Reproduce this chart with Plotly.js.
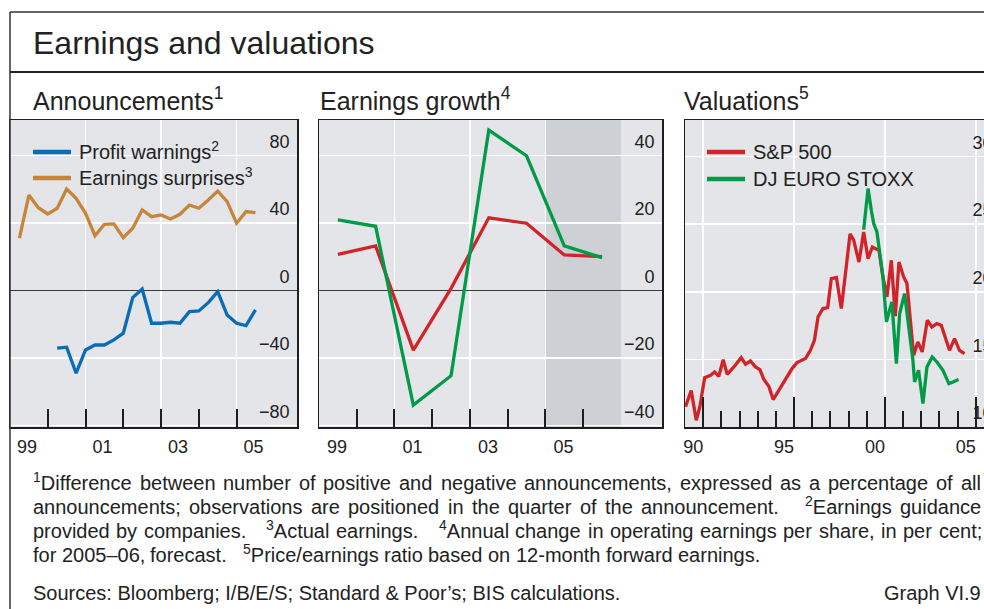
<!DOCTYPE html>
<html>
<head>
<meta charset="utf-8">
<script src="https://cdn.plot.ly/plotly-3.0.1.min.js"></script>
<style>
html,body{margin:0;padding:0;overflow:hidden;background:#ffffff;width:984px;height:609px}
#chart{width:1010px;height:609px}
</style>
</head>
<body>
<div id="chart"></div>
<script>
// ---------------- DATA ----------------
// Panel 1: Announcements (quarterly, decimal years)
const annQuarters = [1999.25, 1999.5, 1999.75, 2000.0, 2000.25, 2000.5, 2000.75, 2001.0, 2001.25, 2001.5,
  2001.75, 2002.0, 2002.25, 2002.5, 2002.75, 2003.0, 2003.25, 2003.5, 2003.75, 2004.0,
  2004.25, 2004.5, 2004.75, 2005.0, 2005.25, 2005.5];
const profitWarnings = [null, null, null, null, -34.3, -33.7, -49.1, -35.3, -32.4, -32.4,
  -29.4, -25.4, -4.3, 0.8, -19.5, -19.5, -18.9, -19.5, -12.6, -12.2,
  -7.3, -0.8, -14.6, -19.5, -20.9, -11.6];
const earningsSurprises = [31.0, 56.5, 49.0, 45.3, 48.7, 60.1, 54.6, 45.7, 32.4, 39.2,
  39.4, 31.2, 36.8, 47.7, 43.7, 44.7, 42.3, 45.1, 50.6, 48.7,
  53.6, 58.9, 52.6, 39.8, 46.7, 46.1];

// Panel 2: Earnings growth (annual, plotted mid-year)
const growthYears = [1999.5, 2000.5, 2001.5, 2002.5, 2003.5, 2004.5, 2005.5, 2006.5];
const growthSP500 = [10.7, 13.2, -17.7, 0.6, 21.5, 19.9, 10.5, 10.0];
const growthEuroStoxx = [20.9, 19.0, -34.0, -25.3, 47.5, 39.9, 13.2, 9.7];
const forecastPeriod = [2005, 2007];

// Panel 3: Valuations (P/E ratios)
const peSPDates = [1989.03, 1989.34, 1989.62, 1989.82, 1990.08, 1990.41, 1990.63, 1990.86, 1991.10, 1991.32,
  1991.69, 1992.09, 1992.33, 1992.60, 1992.88, 1993.12, 1993.34, 1993.61, 1993.85, 1994.16,
  1994.53, 1994.89, 1995.16, 1995.63, 1995.90, 1996.12, 1996.32, 1996.59, 1996.85, 1997.05,
  1997.33, 1997.60, 1997.88, 1998.08, 1998.28, 1998.57, 1998.83, 1999.07, 1999.31, 1999.53,
  1999.67, 1999.89, 2000.11, 2000.35, 2000.57, 2000.77, 2001.03, 2001.21, 2001.58, 2001.81,
  2002.05, 2002.33, 2002.58, 2002.86, 2003.10, 2003.37, 2003.55, 2003.83, 2004.10, 2004.38];
const peSP500 = [11.5, 12.7, 10.5, 11.5, 13.65, 13.82, 14.07, 13.75, 14.98, 13.90,
  14.44, 15.13, 14.64, 14.88, 14.44, 14.25, 13.51, 13.01, 12.03, 12.71,
  13.53, 14.32, 14.76, 15.06, 15.67, 16.41, 18.14, 18.76, 18.83, 20.97,
  21.05, 18.76, 21.95, 24.28, 23.81, 22.20, 24.42, 22.45, 23.31, 23.19,
  23.07, 21.10, 19.62, 22.33, 18.20, 22.20, 21.10, 20.61, 15.30, 16.29,
  15.55, 17.89, 17.40, 17.64, 17.52, 16.41, 15.67, 16.54, 15.67, 15.43];
const peEuroDates = [1998.83, 1999.07, 1999.25, 1999.38, 1999.56, 1999.71, 1999.89, 2000.08, 2000.26, 2000.38,
  2000.63, 2000.81, 2001.08, 2001.54, 2001.63, 2001.85, 2002.09, 2002.31, 2002.60, 2002.86,
  2003.19, 2003.52, 2003.74, 2004.05];
const peEuroStoxx = [24.6, 27.63, 26.03, 25.04, 24.42, 23.07, 21.1, 17.77, 18.63, 19.25,
  14.69, 18.39, 19.87, 14.93, 13.33, 14.19, 11.73, 14.44, 15.18, 14.81,
  14.19, 13.21, 13.33, 13.51];

// Axis ticks / labels
const annTickYears = [1999, 2001, 2003, 2005];
const annTickLabels = ['99', '01', '03', '05'];
const annMinorYears = [2000, 2002, 2004];
const annYTicks = [-80, -40, 0, 40, 80];
const growthMinorYears = [2000, 2002, 2004, 2006];
const growthYTicks = [-40, -20, 0, 20, 40];
const valTickYears = [1990, 1995, 2000, 2005];
const valTickLabels = ['90', '95', '00', '05'];
const valMinorYears = [1991, 1992, 1993, 1994, 1996, 1997, 1998, 1999, 2001, 2002, 2003, 2004];
const valYTicks = [10, 15, 20, 25, 30];

// ---------------- STYLE / GEOMETRY ----------------
const W = 1010, H = 609;
const px = v => v / W;
const py = v => 1 - v / H;
const FONT = '"Liberation Sans", Arial, "DejaVu Sans", sans-serif';
const INK = '#222222';
const PANEL_BG = '#e3e5e8';
const FORECAST_BG = '#cdd0d5';
const AXIS_LINE = '#1e1e1e';
const C_BLUE = '#0a6cb9', C_ORANGE = '#c7853c', C_RED = '#d2232b', C_GREEN = '#009a48';
const PLOT_TOP = 120, PLOT_BOTTOM = 427;
const yDom = [py(PLOT_BOTTOM), py(PLOT_TOP)];

function xAxis(domain, range, major, labels, minor, tickLen, minorLen, shift, anchor) {
  return {
    domain, range, anchor, tickmode: 'array', tickvals: major, ticktext: labels,
    ticks: 'inside', ticklen: tickLen, tickwidth: 2, tickcolor: AXIS_LINE,
    ticklabelshift: shift, ticklabelstandoff: 3, ticklabeloverflow: 'allow',
    minor: {tickmode: 'array', tickvals: minor, ticks: 'inside', ticklen: minorLen,
      tickwidth: 2, tickcolor: AXIS_LINE, showgrid: false},
    showgrid: true, gridcolor: '#ffffff', gridwidth: 1.5,
    showline: true, linecolor: AXIS_LINE, linewidth: 1.5, mirror: true, zeroline: false,
    tickfont: {family: FONT, size: 18, color: INK}, fixedrange: true
  };
}
function yAxis(range, vals, anchor, zero) {
  return {
    domain: yDom, range, anchor, side: 'right', tickmode: 'array', tickvals: vals,
    ticks: '', ticklabelposition: 'inside', ticklabelshift: -14, ticklabelstandoff: 8,
    ticklabeloverflow: 'allow',
    showgrid: true, gridcolor: '#ffffff', gridwidth: 1.5,
    zeroline: zero, zerolinecolor: '#3a3a3a', zerolinewidth: 1.5,
    showline: true, linecolor: AXIS_LINE, linewidth: 1.5, mirror: true,
    tickfont: {family: FONT, size: 18, color: INK}, fixedrange: true
  };
}

const traces = [
  {type: 'scatter', mode: 'lines', name: 'Profit warnings<sup>2</sup>', x: annQuarters, y: profitWarnings,
    xaxis: 'x', yaxis: 'y', line: {color: C_BLUE, width: 3.3}, connectgaps: false},
  {type: 'scatter', mode: 'lines', name: 'Earnings surprises<sup>3</sup>', x: annQuarters, y: earningsSurprises,
    xaxis: 'x', yaxis: 'y', line: {color: C_ORANGE, width: 3.3}},
  {type: 'scatter', mode: 'lines', name: 'S&P 500', x: growthYears, y: growthSP500,
    xaxis: 'x2', yaxis: 'y2', line: {color: C_RED, width: 3.3}},
  {type: 'scatter', mode: 'lines', name: 'DJ EURO STOXX', x: growthYears, y: growthEuroStoxx,
    xaxis: 'x2', yaxis: 'y2', line: {color: C_GREEN, width: 3.3}},
  {type: 'scatter', mode: 'lines', name: 'S&P 500', x: peSPDates, y: peSP500,
    xaxis: 'x3', yaxis: 'y3', line: {color: C_RED, width: 3.3}},
  {type: 'scatter', mode: 'lines', name: 'DJ EURO STOXX', x: peEuroDates, y: peEuroStoxx,
    xaxis: 'x3', yaxis: 'y3', line: {color: C_GREEN, width: 3.3}}
];
traces.forEach(t => { t.showlegend = false; });

// ---------------- TEXT ----------------
const annotations = [];
const shapes = [];
// y = visual centre of the text line (px); anchored at box bottom so baselines align with superscripts
function addText(text, x, y, size, xanchor) {
  annotations.push({text, x: px(x), y: py(y + 0.55 * size), xref: 'paper', yref: 'paper', xanchor: xanchor || 'left',
    yanchor: 'bottom', showarrow: false, borderpad: 0, borderwidth: 0,
    font: {family: FONT, size, color: INK}});
}
addText('Earnings and valuations', 33, 43, 32);
addText('Announcements<sup>1</sup>', 33, 101, 25);
addText('Earnings growth<sup>4</sup>', 320, 101, 25);
addText('Valuations<sup>5</sup>', 684, 101, 25);

// In-panel legends (key boxes covering the gridlines, drawn below the data)
const legends = [
  {box: [31, 138, 258, 187], lineX: [33, 71], textX: 79, rows: [152, 178], items: [traces[0], traces[1]]},
  {box: [705, 138, 910, 187], lineX: [707, 745], textX: 753, rows: [152, 179], items: [traces[4], traces[5]]}
];
legends.forEach(lg => {
  shapes.push({type: 'rect', xref: 'paper', yref: 'paper', x0: px(lg.box[0]), x1: px(lg.box[2]),
    y0: py(lg.box[3]), y1: py(lg.box[1]), fillcolor: PANEL_BG, line: {width: 0}, layer: 'between'});
  lg.items.forEach((tr, i) => {
    shapes.push({type: 'line', xref: 'paper', yref: 'paper', x0: px(lg.lineX[0]), x1: px(lg.lineX[1]),
      y0: py(lg.rows[i]), y1: py(lg.rows[i]), line: {color: tr.line.color, width: 4.5}});
    addText(tr.name, lg.textX, lg.rows[i], 20);
  });
});

const FOOT_SIZE = 20, FOOT_X0 = 33, SEG_GAP = 3;
const footLines = [
  {y: 483, x1: 981, segments: ['<sup>1</sup>Difference between number of positive and negative announcements, expressed as a percentage of all']},
  {y: 507, x1: 981, segments: ['announcements; observations are positioned in the quarter of the announcement.', '<sup>2</sup>Earnings guidance']},
  {y: 531, x1: 982, segments: ['provided by companies.', '<sup>3</sup>Actual earnings.', '<sup>4</sup>Annual change in operating earnings per share, in per cent;']},
  {y: 555, x1: 760, segments: ['for 2005–06, forecast.', '<sup>5</sup>Price/earnings ratio based on 12-month forward earnings.']}
];
const ctx = document.createElement('canvas').getContext('2d');
function textWidth(str, size) { ctx.font = size + 'px ' + FONT; return ctx.measureText(str).width; }
function wordWidth(word, size) {
  let w = 0, last = 0, m; const re = /<sup>(.*?)<\/sup>/g;
  while ((m = re.exec(word))) { w += textWidth(word.slice(last, m.index), size) + textWidth(m[1], size * 0.7); last = re.lastIndex; }
  return w + textWidth(word.slice(last), size);
}
footLines.forEach(line => {
  const words = [], gaps = [];
  line.segments.forEach(seg => seg.split(' ').forEach((w, wi) => {
    if (words.length) gaps.push(wi === 0 ? SEG_GAP : 1);
    words.push(w);
  }));
  const widths = words.map(w => wordWidth(w, FOOT_SIZE));
  const totalW = widths.reduce((a, b) => a + b, 0);
  const totalGap = gaps.reduce((a, b) => a + b, 0);
  const unit = (line.x1 - FOOT_X0 - totalW) / totalGap;
  let x = FOOT_X0;
  words.forEach((w, i) => {
    addText(w, x, line.y, FOOT_SIZE);
    x += widths[i] + (i < gaps.length ? gaps[i] * unit : 0);
  });
});
addText('Sources: Bloomberg; I/B/E/S; Standard &amp; Poor’s; BIS calculations.', 33, 593, FOOT_SIZE);
addText('Graph VI.9', 981, 593, FOOT_SIZE, 'right');

// ---------------- LAYOUT ----------------
const frame = {color: '#333333', width: 1.5};
shapes.unshift(
  {type: 'rect', xref: 'x2', yref: 'y2 domain', x0: forecastPeriod[0], x1: forecastPeriod[1], y0: 0, y1: 1,
    fillcolor: FORECAST_BG, line: {width: 0}, layer: 'below'},
  {type: 'line', xref: 'paper', yref: 'paper', x0: px(10), x1: px(10), y0: py(12), y1: 0, line: frame},
  {type: 'line', xref: 'paper', yref: 'paper', x0: px(10), x1: 1, y0: py(12), y1: py(12), line: frame},
  {type: 'line', xref: 'paper', yref: 'paper', x0: px(10), x1: 1, y0: py(72), y1: py(72), line: {color: '#222222', width: 2}}
);

const layout = {
  width: W, height: H, margin: {l: 0, r: 0, t: 0, b: 0},
  paper_bgcolor: '#ffffff', plot_bgcolor: PANEL_BG,
  font: {family: FONT, color: INK},
  hovermode: false, showlegend: false,
  xaxis: xAxis([px(10), px(297)], [1999, 2006.6], annTickYears, annTickLabels, annMinorYears, 18, 18, 17, 'y'),
  yaxis: yAxis([-81, 101], annYTicks, 'x', true),
  xaxis2: xAxis([px(319), px(662)], [1999, 2008.09], annTickYears, annTickLabels, growthMinorYears, 18, 18, 18, 'y2'),
  yaxis2: yAxis([-40.5, 50.5], growthYTicks, 'x2', true),
  xaxis3: xAxis([px(685), px(1000)], [1989, 2006.33], valTickYears, valTickLabels, valMinorYears, 30, 16, -10, 'y3'),
  yaxis3: yAxis([10, 32.7], valYTicks, 'x3', false),
  shapes,
  annotations
};

Plotly.newPlot('chart', traces, layout, {staticPlot: true, displayModeBar: false});
</script>
</body>
</html>
